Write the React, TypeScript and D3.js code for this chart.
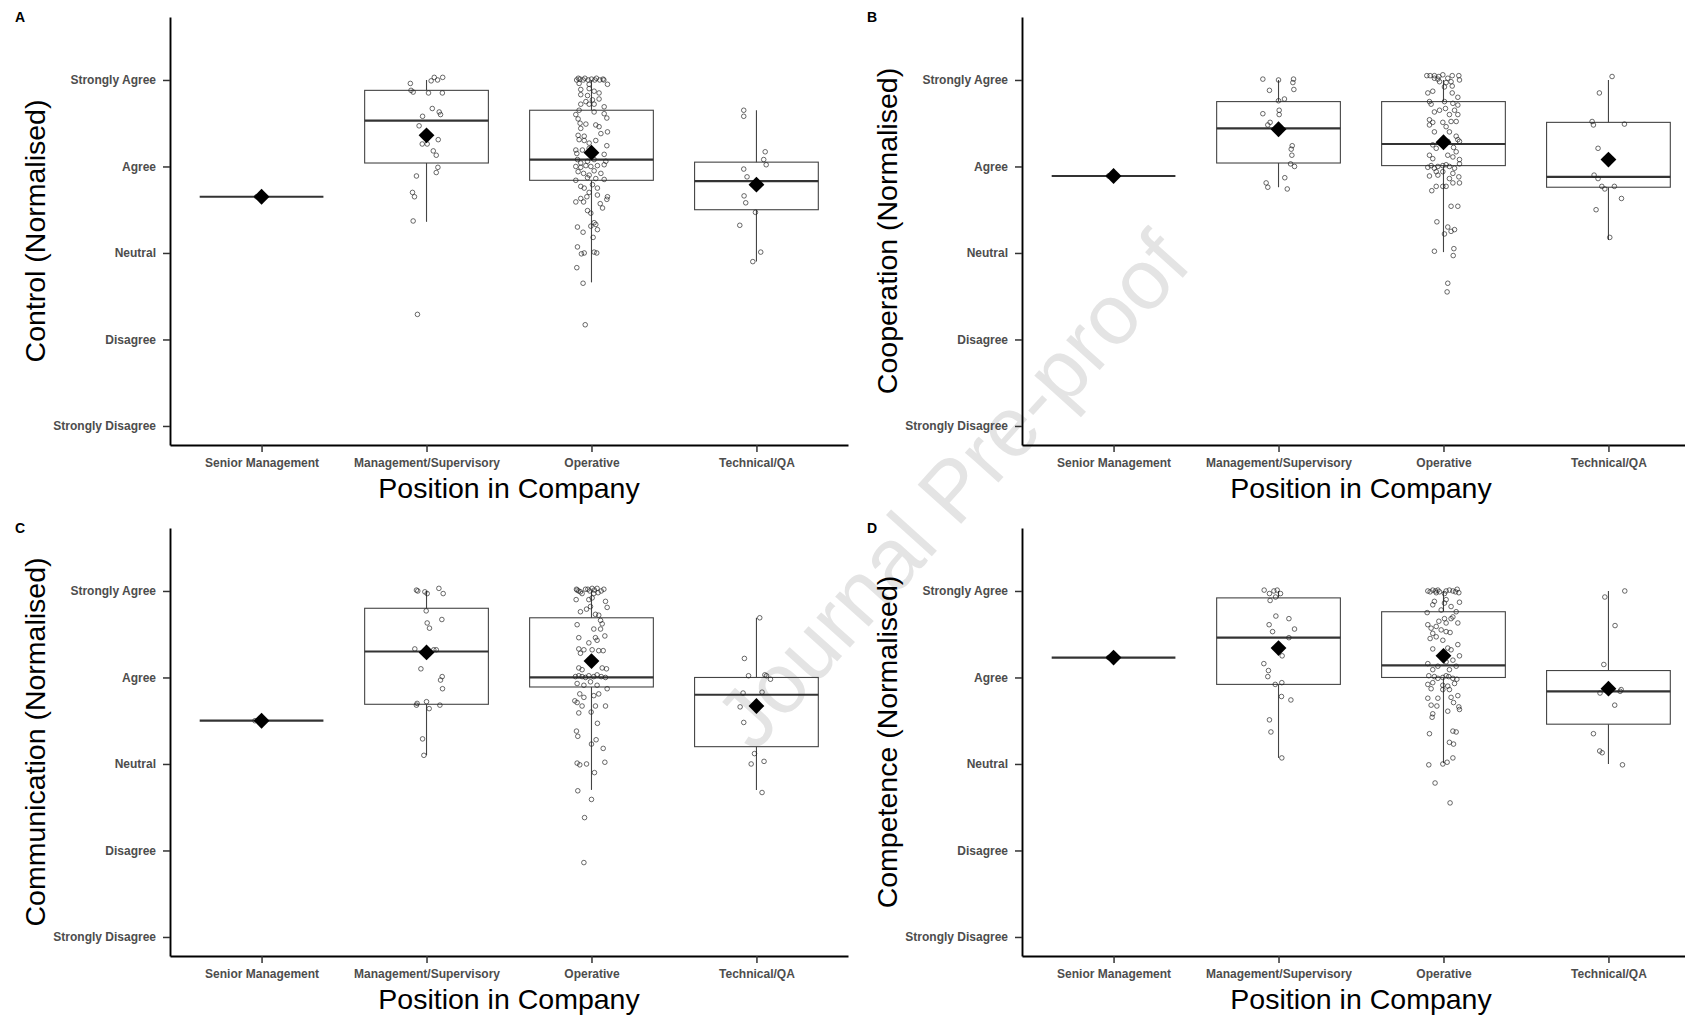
import * as d3 from "d3";
import { useEffect, useRef } from "react";

// categories and axis labels
const categories = ["Senior Management", "Management/Supervisory", "Operative", "Technical/QA"];
const likertLevels = [1, 2, 3, 4, 5];
const likertLabels = ["Strongly Disagree", "Disagree", "Neutral", "Agree", "Strongly Agree"];
const panelLetters = ["A", "B", "C", "D"];
const yTitles = [
  "Control (Normalised)",
  "Cooperation (Normalised)",
  "Communication (Normalised)",
  "Competence (Normalised)",
];

// box stats per group: [lower whisker, q1, median, q3, upper whisker]
const controlBoxes = [[3.65, 3.65, 3.65, 3.65, 3.65], [3.36, 4.04, 4.53, 4.88, 5.0], [2.66, 3.84, 4.08, 4.65, 5.0], [2.9, 3.5, 3.83, 4.05, 4.65]];
const cooperationBoxes = [[3.89, 3.89, 3.89, 3.89, 3.89], [3.76, 4.04, 4.44, 4.75, 5.0], [3.01, 4.01, 4.26, 4.75, 5.0], [3.15, 3.76, 3.88, 4.51, 5.0]];
const communicationBoxes = [[3.5, 3.5, 3.5, 3.5, 3.5], [3.1, 3.69, 4.3, 4.8, 5.0], [2.7, 3.89, 4.0, 4.69, 5.0], [2.7, 3.2, 3.8, 4.0, 4.69]];
const competenceBoxes = [[4.23, 4.23, 4.23, 4.23, 4.23], [3.07, 3.92, 4.46, 4.92, 5.0], [3.01, 4.0, 4.14, 4.76, 5.0], [3.0, 3.46, 3.84, 4.08, 5.0]];

// group means
const controlMeans = [3.65, 4.36, 4.16, 3.79];
const cooperationMeans = [3.89, 4.43, 4.28, 4.08];
const communicationMeans = [3.5, 4.29, 4.19, 3.67];
const competenceMeans = [4.23, 4.34, 4.25, 3.87];

// jittered responses: [jitter (category units), score]
const controlSenior = [[-0.03, 3.65]];
const controlMgmt = [[-0.098,4.96],[-0.094,4.88],[-0.081,4.86],[0.028,4.99],[0.047,5.03],[0.067,5.0],[0.098,5.03],[0.012,4.85],[0.096,4.85],[0.035,4.67],[0.077,4.63],[0.085,4.6],[-0.024,4.58],[-0.045,4.47],[0.071,4.31],[-0.026,4.26],[0.004,4.26],[0.041,4.18],[0.059,4.13],[0.069,3.99],[0.059,3.93],[-0.061,3.89],[-0.085,3.7],[-0.073,3.65],[-0.081,3.37],[-0.055,2.29]];
const controlOperative = [[-0.09,5.0],[-0.07,5.01],[-0.05,5.0],[-0.04,5.02],[-0.02,5.0],[0.0,5.01],[0.02,5.0],[0.03,5.02],[0.05,5.0],[0.07,5.01],[0.075,5.0],[-0.08,5.02],
  [-0.075,4.96],[-0.014,4.95],[0.097,4.95],[-0.065,4.89],[-0.014,4.9],[0.016,4.87],[0.046,4.85],[-0.065,4.83],[-0.024,4.82],[-0.034,4.75],[0.006,4.77],[0.046,4.78],[-0.065,4.72],[-0.014,4.72],[0.016,4.72],[0.077,4.69],[-0.075,4.65],[0.016,4.63],[-0.095,4.6],[0.077,4.61],[0.093,4.56],[-0.081,4.55],[-0.069,4.5],[-0.034,4.49],[0.026,4.48],[0.046,4.46],[-0.065,4.44],[0.097,4.4],[-0.081,4.36],[-0.044,4.35],[0.057,4.38],[-0.075,4.31],[-0.044,4.3],[0.026,4.3],[-0.014,4.27],[0.093,4.24],[-0.095,4.19],[-0.089,4.15],[-0.055,4.19],[-0.014,4.21],[0.077,4.14],[-0.085,4.08],[-0.065,4.04],[-0.024,4.06],[0.016,4.08],[0.087,4.06],[-0.095,4.0],[-0.065,3.99],[-0.034,4.01],[-0.004,4.0],[0.036,4.01],[0.077,4.02],[-0.081,3.94],[-0.048,3.92],[-0.014,3.9],[0.016,3.95],[0.057,3.92],[-0.095,3.84],[-0.024,3.87],[0.026,3.86],[0.077,3.85],[-0.065,3.77],[-0.044,3.75],[0.006,3.79],[0.036,3.75],[-0.014,3.7],[-0.065,3.63],[-0.028,3.65],[0.036,3.67],[0.097,3.65],[0.093,3.62],[-0.095,3.59],[-0.048,3.59],[0.053,3.57],[0.067,3.52],[-0.024,3.49],[-0.004,3.46],[0.016,3.35],[0.026,3.33],[-0.085,3.3],[-0.051,3.24],[0.036,3.27],[-0.004,3.31],[0.01,3.18],[-0.085,3.07],[-0.044,3.0],[-0.061,2.99],[0.016,3.01],[0.032,3.0],[-0.089,2.83],[-0.051,2.65],[-0.038,2.17]];
const controlTechnical = [[-0.077,4.65],[-0.077,4.58],[0.053,4.17],[0.044,4.08],[0.059,4.02],[-0.077,3.97],[-0.057,3.88],[-0.075,3.66],[-0.065,3.58],[-0.006,3.47],[-0.101,3.32],[0.026,3.01],[-0.022,2.9]];

const cooperationSenior = [[-0.03, 3.89]];
const cooperationMgmt = [[-0.095,5.01],[0.0,5.0],[0.091,5.01],[0.087,4.97],[-0.055,4.88],[0.093,4.89],[0.0,4.76],[0.036,4.78],[0.004,4.65],[0.004,4.6],[-0.095,4.61],[-0.051,4.51],[-0.065,4.48],[0.083,4.24],[0.077,4.2],[0.081,4.13],[0.073,4.03],[0.097,4.0],[0.038,3.87],[-0.075,3.81],[-0.065,3.76],[0.053,3.74]];
const cooperationOperative = [[-0.101,5.05],[-0.081,5.05],[-0.055,5.05],[-0.028,5.04],[-0.004,5.06],[0.026,5.02],[0.053,5.05],[0.093,5.05],[-0.034,5.01],[-0.024,4.98],[0.016,4.97],[0.046,4.98],[0.097,5.0],[-0.055,5.02],
  [0.053,4.93],[0.006,4.92],[-0.095,4.85],[-0.065,4.87],[0.053,4.85],[0.087,4.8],[-0.085,4.75],[-0.075,4.72],[0.006,4.75],[0.057,4.73],[0.087,4.71],[-0.055,4.63],[-0.024,4.65],[0.012,4.67],[0.067,4.65],[0.036,4.6],[0.087,4.6],[-0.085,4.54],[-0.065,4.51],[-0.004,4.51],[0.046,4.52],[0.077,4.52],[-0.085,4.48],[0.016,4.46],[0.036,4.4],[-0.055,4.4],[0.077,4.35],[0.087,4.31],[-0.065,4.25],[-0.024,4.27],[0.026,4.29],[0.097,4.29],[-0.044,4.21],[0.061,4.22],[0.077,4.17],[-0.085,4.13],[-0.065,4.09],[0.026,4.13],[0.057,4.11],[0.097,4.08],[-0.095,3.99],[-0.075,4.01],[-0.055,3.98],[-0.034,4.0],[-0.004,4.01],[0.016,4.02],[0.036,4.0],[0.067,3.98],[0.097,4.03],[-0.044,3.94],[-0.004,3.94],[0.057,3.92],[-0.085,3.89],[-0.034,3.9],[0.036,3.86],[0.093,3.88],[0.057,3.81],[0.097,3.81],[-0.044,3.77],[-0.004,3.77],[0.016,3.77],[-0.071,3.72],[0.046,3.54],[0.087,3.54],[-0.04,3.36],[0.026,3.3],[0.046,3.25],[0.067,3.27],[0.006,3.22],[-0.055,3.02],[0.063,3.05],[0.059,2.97],[0.026,2.65],[0.022,2.55]];
const cooperationTechnical = [[0.022,5.04],[-0.055,4.85],[-0.099,4.52],[-0.091,4.48],[0.097,4.49],[-0.063,4.21],[-0.087,3.9],[-0.063,3.86],[-0.04,3.77],[-0.022,3.74],[0.036,3.77],[0.079,3.63],[-0.075,3.5],[0.008,3.18]];

const communicationSenior = [[-0.04, 3.5]];
const communicationMgmt = [[-0.061,5.01],[-0.053,5.0],[-0.01,4.99],[0.004,4.97],[0.075,5.03],[0.101,4.97],[-0.002,4.77],[0.093,4.67],[0.004,4.63],[0.018,4.57],[-0.071,4.33],[0.044,4.32],[0.059,4.32],[-0.034,4.1],[0.095,4.01],[0.085,3.97],[0.097,3.87],[-0.057,3.7],[-0.061,3.68],[0.0,3.72],[0.016,3.64],[0.081,3.68],[-0.024,3.29],[-0.016,3.1]];
const communicationOperative = [[-0.091,5.02],[-0.077,5.0],[-0.057,4.97],[-0.036,5.02],[-0.022,5.02],[-0.01,5.0],[0.004,5.03],[0.018,5.01],[0.034,5.03],[0.059,5.0],[0.075,5.02],[-0.067,4.99],[0.04,4.98],[-0.087,5.01],[0.014,4.97],
  [-0.093,4.9],[-0.016,4.9],[0.004,4.92],[0.085,4.88],[0.095,4.81],[-0.067,4.76],[-0.03,4.79],[-0.006,4.82],[0.024,4.73],[0.044,4.72],[0.055,4.66],[-0.087,4.61],[0.065,4.62],[0.014,4.56],[0.055,4.56],[-0.077,4.46],[0.081,4.48],[0.024,4.46],[0.034,4.43],[-0.016,4.4],[-0.077,4.33],[-0.046,4.32],[0.004,4.32],[0.044,4.31],[0.071,4.31],[-0.067,4.28],[-0.077,4.11],[-0.057,4.09],[0.065,4.11],[0.091,4.1],[-0.097,4.01],[-0.077,4.02],[-0.057,4.01],[-0.036,4.0],[-0.016,4.02],[0.014,4.01],[0.034,4.03],[0.059,4.01],[0.085,4.0],[-0.087,3.93],[-0.046,3.91],[-0.006,3.95],[0.034,3.91],[0.095,3.87],[-0.071,3.81],[-0.046,3.77],[0.014,3.79],[0.044,3.81],[-0.101,3.73],[-0.087,3.71],[-0.057,3.67],[0.024,3.67],[0.085,3.67],[-0.077,3.59],[-0.002,3.6],[0.036,3.47],[-0.091,3.38],[-0.083,3.32],[0.028,3.28],[0.0,3.23],[0.071,3.18],[-0.087,3.01],[-0.071,2.99],[-0.03,3.0],[0.081,3.02],[0.018,2.9],[-0.083,2.69],[0.0,2.59],[-0.042,2.38],[-0.046,1.86]];
const communicationTechnical = [[0.02,4.69],[-0.073,4.22],[-0.048,4.02],[0.051,4.03],[0.061,4.02],[0.085,3.98],[-0.081,3.82],[0.034,3.83],[-0.099,3.66],[-0.077,3.48],[-0.012,3.12],[-0.032,3.0],[0.046,3.03],[0.034,2.67]];

const competenceSenior = [[-0.03, 4.23]];
const competenceMgmt = [[-0.087,5.01],[-0.055,4.97],[-0.028,5.0],[-0.008,5.01],[0.012,4.97],[-0.018,4.93],[-0.051,4.89],[-0.016,4.71],[0.063,4.68],[-0.057,4.61],[0.097,4.56],[-0.036,4.53],[0.063,4.46],[0.022,4.25],[-0.089,4.16],[-0.061,4.08],[-0.065,4.01],[-0.02,3.92],[0.02,3.94],[0.018,3.78],[0.075,3.74],[-0.055,3.51],[-0.046,3.37],[0.02,3.07]];
const competenceOperative = [[-0.095,5.0],[-0.081,4.99],[-0.065,5.01],[-0.048,5.0],[-0.034,5.01],[-0.024,4.99],[0.016,5.0],[0.036,5.01],[0.057,5.0],[0.083,5.02],[0.093,4.98],[-0.044,4.98],[0.006,4.97],[0.073,4.99],
  [-0.055,4.88],[0.016,4.9],[-0.065,4.84],[0.006,4.86],[0.097,4.87],[0.046,4.82],[-0.014,4.78],[0.077,4.76],[-0.099,4.75],[0.057,4.7],[0.006,4.68],[0.046,4.68],[-0.028,4.65],[0.016,4.63],[-0.095,4.61],[0.087,4.63],[-0.044,4.59],[-0.075,4.57],[-0.014,4.55],[0.04,4.52],[-0.065,4.51],[0.016,4.53],[-0.081,4.45],[-0.044,4.47],[-0.004,4.43],[0.087,4.38],[0.026,4.34],[-0.065,4.33],[0.046,4.32],[0.097,4.25],[0.057,4.2],[0.016,4.18],[-0.095,4.16],[-0.034,4.13],[0.077,4.13],[-0.065,4.09],[0.036,4.09],[-0.089,4.02],[-0.055,4.01],[-0.034,3.99],[-0.004,4.0],[0.016,4.02],[0.032,4.01],[0.057,3.99],[0.081,3.98],[-0.095,3.92],[-0.065,3.94],[-0.004,3.91],[0.026,3.9],[0.067,3.93],[-0.075,3.87],[-0.004,3.86],[0.036,3.86],[-0.095,3.76],[-0.034,3.76],[0.046,3.77],[0.087,3.79],[-0.075,3.68],[-0.04,3.67],[0.061,3.71],[0.093,3.66],[0.097,3.63],[0.026,3.61],[-0.065,3.58],[-0.069,3.54],[-0.085,3.35],[0.057,3.38],[0.077,3.37],[0.036,3.25],[0.061,3.23],[0.057,3.07],[0.022,3.02],[-0.004,3.0],[-0.089,2.99],[-0.051,2.78],[0.04,2.55]];
const competenceTechnical = [[0.099,5.0],[-0.022,4.93],[0.04,4.6],[-0.028,4.15],[-0.051,3.82],[0.077,3.86],[0.071,3.84],[0.038,3.68],[-0.091,3.35],[-0.053,3.15],[-0.038,3.13],[0.085,2.99]];

const panels = [
  { boxes: controlBoxes, means: controlMeans, points: [controlSenior, controlMgmt, controlOperative, controlTechnical] },
  { boxes: cooperationBoxes, means: cooperationMeans, points: [cooperationSenior, cooperationMgmt, cooperationOperative, cooperationTechnical] },
  { boxes: communicationBoxes, means: communicationMeans, points: [communicationSenior, communicationMgmt, communicationOperative, communicationTechnical] },
  { boxes: competenceBoxes, means: competenceMeans, points: [competenceSenior, competenceMgmt, competenceOperative, competenceTechnical] },
];

const W = 1685;
const H = 1020;
const FONT = "'Liberation Sans', Arial, sans-serif";

const App = () => {
  const svgRef = useRef(null);

  useEffect(() => {
    document.body.style.margin = "0";
    const svg = d3.select(svgRef.current);
    svg.selectAll("*").remove();

    // watermark sits behind the plots
    svg.append("text")
      .attr("transform", "translate(952,490) rotate(-48)")
      .attr("text-anchor", "middle")
      .attr("dominant-baseline", "central")
      .attr("fill", "#e4e4e4")
      .style("font-family", FONT)
      .style("font-size", "85px")
      .text("Journal Pre-proof");

    // panel frame inside each quarter
    const left = 170, right = 848, top = 17, bottom = 445;
    const offsets = [[0, 0], [852, 0], [0, 511], [852, 511]];

    const x = d3.scalePoint().domain(categories).range([left, right]).padding(0.555);
    const y = d3.scaleLinear().domain([0.78, 5.728]).range([bottom, top]);
    const step = x.step();
    const boxW = step * 0.75;

    panels.forEach((p, pi) => {
      const g = svg.append("g").attr("transform", `translate(${offsets[pi][0]},${offsets[pi][1]})`);

      // boxes
      categories.forEach((cat, i) => {
        const [lo, q1, med, q3, hi] = p.boxes[i];
        const cx = x(cat);
        g.append("line").attr("x1", cx).attr("x2", cx).attr("y1", y(hi)).attr("y2", y(q3))
          .attr("stroke", "#444").attr("stroke-width", 1.1);
        g.append("line").attr("x1", cx).attr("x2", cx).attr("y1", y(q1)).attr("y2", y(lo))
          .attr("stroke", "#444").attr("stroke-width", 1.1);
        g.append("rect").attr("x", cx - boxW / 2).attr("y", y(q3))
          .attr("width", boxW).attr("height", y(q1) - y(q3))
          .attr("fill", "none").attr("stroke", "#444").attr("stroke-width", 1.1);
        g.append("line").attr("x1", cx - boxW / 2).attr("x2", cx + boxW / 2)
          .attr("y1", y(med)).attr("y2", y(med))
          .attr("stroke", "#333").attr("stroke-width", 2.2);
      });

      // jittered points
      categories.forEach((cat, i) => {
        g.append("g").selectAll("circle")
          .data(p.points[i])
          .enter()
          .append("circle")
          .attr("cx", d => x(cat) + d[0] * step)
          .attr("cy", d => y(d[1]))
          .attr("r", 2.3)
          .attr("fill", "none")
          .attr("stroke", "#222")
          .attr("stroke-opacity", 0.75)
          .attr("stroke-width", 0.9);
      });

      // means as diamonds
      g.append("g").selectAll("path")
        .data(p.means)
        .enter()
        .append("path")
        .attr("d", d3.symbol(d3.symbolSquare, 125)())
        .attr("transform", (d, i) => `translate(${x(categories[i])},${y(d)}) rotate(45)`)
        .attr("fill", "#000");

      // axes
      const yAxis = g.append("g").attr("transform", `translate(${left},0)`)
        .call(d3.axisLeft(y).tickValues(likertLevels).tickFormat((d, i) => likertLabels[i]).tickSize(7).tickSizeOuter(0).tickPadding(7));
      const xAxis = g.append("g").attr("transform", `translate(0,${bottom})`)
        .call(d3.axisBottom(x).tickSize(7).tickSizeOuter(0).tickPadding(6));

      [yAxis, xAxis].forEach(ax => {
        ax.select(".domain").attr("stroke", "#000").attr("stroke-width", 1.9);
        ax.selectAll(".tick line").attr("stroke", "#333").attr("stroke-width", 1.5);
        ax.selectAll(".tick text")
          .attr("fill", "#4d4d4d")
          .style("font-family", FONT)
          .style("font-weight", "bold")
          .style("font-size", "12px");
      });

      // titles
      g.append("text")
        .attr("x", (left + right) / 2).attr("y", 498)
        .attr("text-anchor", "middle")
        .style("font-family", FONT).style("font-size", "28.5px")
        .text("Position in Company");
      g.append("text")
        .attr("transform", `translate(45,${(top + bottom) / 2}) rotate(-90)`)
        .attr("text-anchor", "middle")
        .style("font-family", FONT).style("font-size", "28.5px")
        .text(yTitles[pi]);
      g.append("text")
        .attr("x", 15).attr("y", 22)
        .style("font-family", FONT).style("font-size", "14px").style("font-weight", "bold")
        .text(panelLetters[pi]);
    });
  }, []);

  return <svg ref={svgRef} width={W} height={H} style={{ display: "block", background: "#fff" }}></svg>;
};

export default App;
